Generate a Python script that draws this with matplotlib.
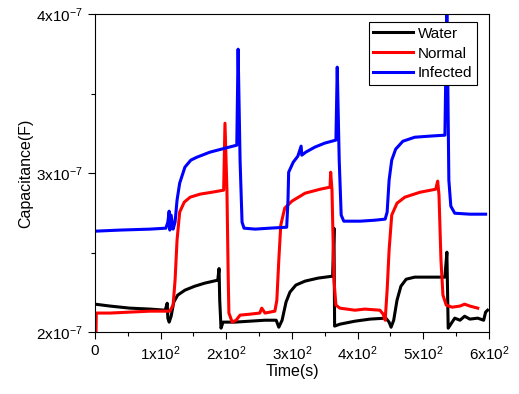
import matplotlib
matplotlib.use("Agg")
from matplotlib import pyplot as plt

plt.rcParams['font.family'] = ['Liberation Sans', 'DejaVu Sans']
plt.rcParams['mathtext.fontset'] = 'custom'
plt.rcParams['mathtext.rm'] = 'Liberation Sans'
plt.rcParams['mathtext.it'] = 'Liberation Sans:italic'
plt.rcParams['mathtext.bf'] = 'Liberation Sans:bold'

# capacitance values in units of 1e-7 F
water_t = [0, 23, 53, 84, 107, 110, 111, 113, 116, 120, 126, 137, 152, 167, 187,
           189, 190, 192, 195, 213, 236, 259, 276, 280, 285, 291, 297, 306, 320,
           340, 362, 364, 365, 373, 396, 419, 443, 448, 451, 455, 460, 466, 474,
           487, 533, 536, 538, 544, 548, 556, 563, 571, 583, 592, 595, 598]
water_c = [2.176, 2.164, 2.151, 2.145, 2.138, 2.182, 2.088, 2.063, 2.10, 2.189,
           2.233, 2.264, 2.289, 2.308, 2.327, 2.40, 2.20, 2.025, 2.063, 2.063,
           2.069, 2.075, 2.075, 2.031, 2.075, 2.189, 2.252, 2.296, 2.321, 2.34,
           2.352, 2.654, 2.038, 2.05, 2.069, 2.082, 2.088, 2.063, 2.031, 2.075,
           2.20, 2.289, 2.333, 2.346, 2.346, 2.503, 2.025, 2.063, 2.088, 2.075,
           2.10, 2.082, 2.088, 2.075, 2.126, 2.138]

normal_t = [1.5, 2, 23, 53, 84, 114, 119, 122, 125, 129, 136, 145, 160, 178, 196,
            198, 201, 203, 204, 209, 215, 221, 236, 251, 254, 259, 274, 277, 280,
            283, 289, 300, 320, 343, 358, 359, 361, 364, 367, 373, 396, 411, 434,
            439, 442, 445, 448, 452, 460, 472, 495, 519, 522, 524, 527, 530, 535,
            544, 556, 563, 571, 583]
normal_c = [1.98, 2.12, 2.12, 2.126, 2.132, 2.132, 2.17, 2.327, 2.579, 2.755,
            2.818, 2.849, 2.868, 2.88, 2.893, 3.314, 2.893, 2.327, 2.12, 2.063,
            2.075, 2.107, 2.113, 2.12, 2.151, 2.12, 2.132, 2.20, 2.453, 2.673,
            2.78, 2.824, 2.874, 2.899, 2.912, 3.006, 2.893, 2.327, 2.17, 2.151,
            2.138, 2.145, 2.138, 2.113, 2.075, 2.264, 2.516, 2.736, 2.811, 2.849,
            2.88, 2.899, 2.95, 2.862, 2.453, 2.233, 2.17, 2.157, 2.164, 2.176,
            2.164, 2.151]

infected_t = [0, 38, 84, 108, 111, 113, 114, 116, 119, 122, 125, 129, 137, 146,
              155, 175, 198, 216, 218, 221, 224, 227, 244, 266, 292, 294, 295,
              302, 309, 314, 315, 321, 335, 350, 367, 369, 372, 375, 379, 404,
              426, 442, 445, 448, 452, 458, 469, 487, 510, 533, 536, 539, 542,
              548, 571, 595]
infected_c = [2.635, 2.642, 2.648, 2.654, 2.692, 2.761, 2.642, 2.736, 2.648,
              2.692, 2.83, 2.937, 3.038, 3.082, 3.10, 3.132, 3.157, 3.176, 3.78,
              3.08, 2.692, 2.654, 2.648, 2.654, 2.66, 2.83, 3.006, 3.069, 3.107,
              3.17, 3.113, 3.132, 3.164, 3.189, 3.208, 3.667, 3.082, 2.736, 2.698,
              2.698, 2.704, 2.711, 2.755, 2.956, 3.082, 3.151, 3.201, 3.226, 3.233,
              3.239, 4.1, 2.956, 2.792, 2.748, 2.742, 2.742]

x_ticks = [0, 100, 200, 300, 400, 500, 600]
x_labels = ['0', r'1x10$^2$', r'2x10$^2$', r'3x10$^2$', r'4x10$^2$', r'5x10$^2$', r'6x10$^2$']
y_ticks = [2, 3, 4]
y_labels = [r'2x10$^{-7}$', r'3x10$^{-7}$', r'4x10$^{-7}$']

fig = plt.figure(figsize=(5.19, 3.94), dpi=100)
ax = fig.add_axes([0.183, 0.157, 0.759, 0.807])

ax.plot(water_t, water_c, color='black', lw=2.2, label='Water')
ax.plot(normal_t, normal_c, color='red', lw=2.2, label='Normal')
ax.plot(infected_t, infected_c, color='blue', lw=2.2, label='Infected')

ax.set_xlim(0, 600)
ax.set_ylim(2, 4)
ax.set_xticks(x_ticks)
ax.set_xticklabels(x_labels, fontsize=11)
ax.set_xticks([50, 150, 250, 350, 450, 550], minor=True)
ax.set_yticks(y_ticks)
ax.set_yticklabels(y_labels, fontsize=11)
ax.set_yticks([2.5, 3.5], minor=True)
ax.tick_params(which='both', direction='out', width=0.8)
ax.tick_params(which='major', length=5)
ax.tick_params(which='minor', length=3)
for s in ax.spines.values():
    s.set_linewidth(0.8)

ax.set_xlabel('Time(s)', fontsize=11.5, labelpad=1)
ax.set_ylabel('Capacitance(F)', fontsize=11.5, labelpad=2)

leg = ax.legend(loc='upper right', bbox_to_anchor=(0.9695, 0.975), borderaxespad=0,
                fontsize=11, handlelength=2.6, labelspacing=0.38, handletextpad=0.3,
                borderpad=0.3, fancybox=False, framealpha=1)
leg.get_frame().set_edgecolor('black')
leg.get_frame().set_linewidth(0.8)

fig.savefig('out.png', dpi=100)
